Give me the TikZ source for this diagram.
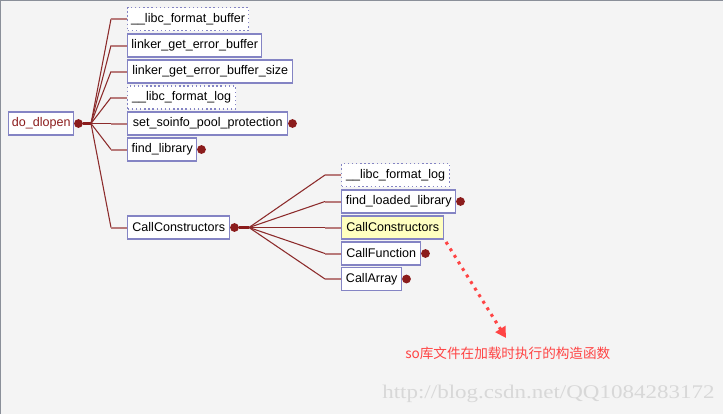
\documentclass[tikz,border=0pt]{standalone}
\usepackage{fontspec}
\setmainfont{Liberation Sans}
\newfontfamily\cjkf{Noto Sans CJK SC}
\newfontfamily\wmf{Liberation Serif}
\usetikzlibrary{arrows.meta}
\definecolor{bgc}{HTML}{F4F4F4}
\definecolor{edgec}{HTML}{8A8F99}
\definecolor{boxc}{HTML}{8484C4}
\definecolor{diagc}{HTML}{8C2B2B}
\definecolor{horc}{HTML}{B87A7A}
\definecolor{dotc}{HTML}{8B1C1C}
\definecolor{yelc}{HTML}{FFFFC0}
\definecolor{notec}{HTML}{FF4444}
\definecolor{wmc}{HTML}{D8D8D8}
\tikzset{
  px/.style={x=0.75pt,y=-0.75pt},
  fn/.style={draw=boxc, line width=1.1pt, fill=white, rectangle, anchor=west,
    inner sep=0pt, minimum height=17.25pt, font=\fontsize{9.4}{11}\selectfont},
  bw/.style={minimum width=#1*0.75pt},
  ext/.style={dotted, line width=0.85pt},
  hl/.style={fill=yelc},
  dotn/.style={circle, fill=dotc, inner sep=0pt, minimum size=6.6pt},
  diag/.style={draw=diagc, line width=0.8pt},
  horiz/.style={draw=horc, line width=1.5pt},
  stem/.style={draw=dotc, line width=2.2pt},
  arr/.style={draw=notec, line width=2.3pt, dash pattern=on 2.2pt off 3.6pt,
    -{Triangle[length=8pt,width=8.5pt]}},
}
\begin{document}
\begin{tikzpicture}[px]
\useasboundingbox (0,0) rectangle (723,414);
\fill[bgc] (0,0) rectangle (723,414);
\draw[edgec, line width=1.5pt] (0,414) -- (0,0) -- (723,0);

% root
\node[fn, bw=65, text=dotc] (n0) at (8,123.5) {do\_dlopen};
\node[dotn] (d0) at ([xshift=3pt]n0.east) {};

% first level
\node[fn, ext, bw=121] (a1) at (127,19) {\_\_libc\_format\_buffer};
\node[fn, bw=134] (a2) at (127,45.5) {linker\_get\_error\_buffer};
\node[fn, bw=165] (a3) at (127,71.5) {linker\_get\_error\_buffer\_size};
\node[fn, ext, bw=108] (a4) at (127,97.5) {\_\_libc\_format\_log};
\node[fn, bw=160] (a5) at (127,123.5) {set\_soinfo\_pool\_protection};
\node[fn, bw=69] (a6) at (127,149.5) {find\_library};
\node[fn, bw=102] (a7) at (127,227.5) {CallConstructors};
\node[dotn] (da5) at ([xshift=3pt]a5.east) {};
\node[dotn] (da6) at ([xshift=3pt]a6.east) {};
\node[dotn] (da7) at ([xshift=3pt]a7.east) {};

% second level
\node[fn, ext, bw=108] (b1) at (341,175) {\_\_libc\_format\_log};
\node[fn, bw=114] (b2) at (341,201.5) {find\_loaded\_library};
\node[fn, hl, bw=102] (b3) at (341,227.5) {CallConstructors};
\node[fn, bw=79] (b4) at (341,253.5) {CallFunction};
\node[fn, bw=60] (b5) at (341,279) {CallArray};
\node[dotn] (db2) at ([xshift=3pt]b2.east) {};
\node[dotn] (db4) at ([xshift=3pt]b4.east) {};
\node[dotn] (db5) at ([xshift=3pt]b5.east) {};

% fan 1
\coordinate (f1) at (91,123.5);
\coordinate (c1) at (111,0);
\draw[stem] (d0) -- (f1);
\foreach \k in {a1,a2,a3,a4,a5,a6,a7}{
  \draw[diag] (f1) -- (\k.west -| c1);
  \draw[horiz] (\k.west -| c1) -- (\k.west);
}

% fan 2
\coordinate (f2) at (249,227.5);
\coordinate (c2) at (325,0);
\draw[stem] (da7) -- (f2);
\foreach \k in {b1,b2,b3,b4,b5}{
  \draw[diag] (f2) -- (\k.west -| c2);
  \draw[horiz] (\k.west -| c2) -- (\k.west);
}

% note
\node[anchor=west, inner sep=0pt, text=notec, font=\cjkf\fontsize{10.2}{12}\selectfont] (note) at (405,353) {so库文件在加载时执行的构造函数};
\coordinate (as) at (446,242);
\coordinate (ae) at (506,338);
\draw[arr] (as) -- (ae);

% watermark
\node[anchor=west, inner sep=0pt, text=wmc, font=\wmf\fontsize{14.5}{16}\selectfont] (wm) at (382,394) {\scalebox{1.19}[1]{http://blog.csdn.net/QQ1084283172}};
\end{tikzpicture}
\end{document}
